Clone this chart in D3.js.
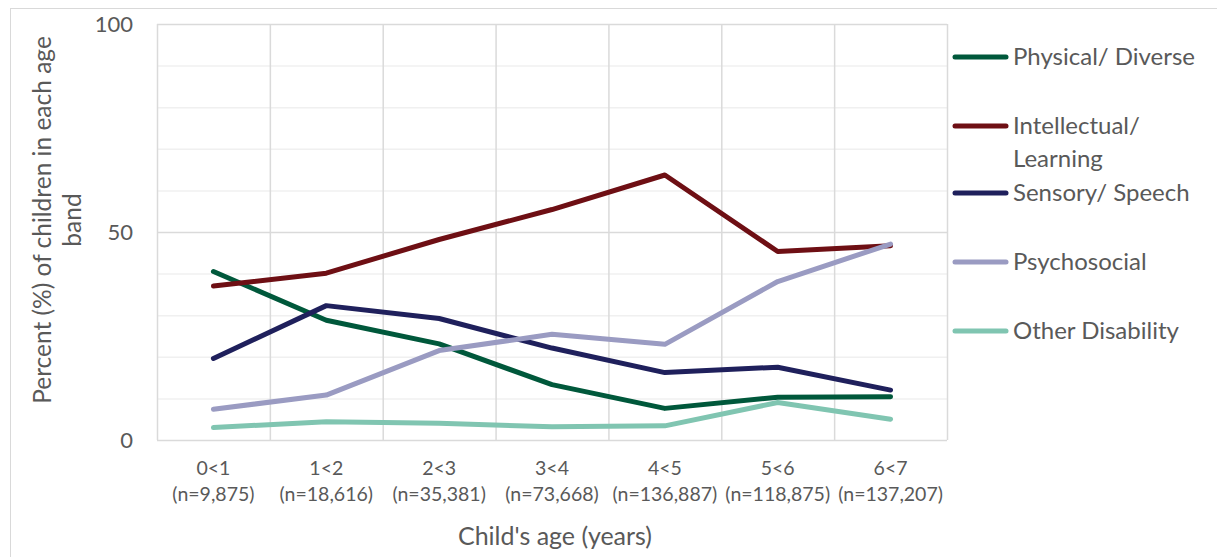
<!DOCTYPE html>
<html lang="en">
    <head>
        <meta charset="utf-8">
        <title>Disability type by child's age</title>
        <script type="text/javascript" src="https://cdn.jsdelivr.net/npm/d3@7"></script>
        <style>
            body { margin: 0; background: #fff; }
            text { font-family: Lato, "Open Sans", sans-serif; fill: #595959; }
        </style>
    </head>
    <body>
        <script type="text/javascript">

            //Width and height
            var w = 1217;
            var h = 557;

            //Categories and their sample sizes
            var ages = ["0<1", "1<2", "2<3", "3<4", "4<5", "5<6", "6<7"];
            var sizes = ["(n=9,875)", "(n=18,616)", "(n=35,381)", "(n=73,668)", "(n=136,887)", "(n=118,875)", "(n=137,207)"];

            //Series values (% of children in each age band)
            var physical     = [40.5, 28.8, 23.1, 13.3, 7.6, 10.3, 10.4];
            var intellectual = [37.0, 40.1, 48.2, 55.4, 63.7, 45.3, 46.7];
            var sensory      = [19.6, 32.3, 29.2, 22.1, 16.2, 17.5, 12.0];
            var psychosocial = [7.4, 10.8, 21.5, 25.4, 23.0, 38.1, 47.1];
            var other        = [3.0, 4.4, 4.0, 3.2, 3.4, 9.0, 5.0];

            var seriesNames = ["Physical/ Diverse", "Intellectual/ Learning", "Sensory/ Speech", "Psychosocial", "Other Disability"];
            var seriesColors = ["#00583b", "#6e0f14", "#1f205c", "#9a9bc2", "#80c5b1"];
            var seriesValues = [physical, intellectual, sensory, psychosocial, other];

            var yTicks = [0, 50, 100];

            var svg = d3.select("body")
                        .append("svg")
                        .attr("width", w)
                        .attr("height", h);

            //Outer chart frame (runs off the picture at right and bottom)
            svg.append("rect")
                .attr("x", 10.5)
                .attr("y", 8.5)
                .attr("width", w + 20)
                .attr("height", h + 20)
                .attr("fill", "none")
                .attr("stroke", "#d9d9d9");

            //Scales
            var xScale = d3.scaleBand()
                            .domain(ages)
                            .range([157, 947])
                            .padding(0);

            var yScale = d3.scaleLinear()
                            .domain([0, 100])
                            .range([440, 24]);

            var xMid = function(c) { return xScale(c) + xScale.bandwidth() / 2; };

            //Minor horizontal gridlines
            svg.append("g")
                .selectAll("line")
                .data(d3.range(10, 100, 10).filter(function(v) { return v !== 50; }))
                .enter()
                .append("line")
                .attr("x1", 157)
                .attr("x2", 947)
                .attr("y1", function(d) { return yScale(d) + 0.5; })
                .attr("y2", function(d) { return yScale(d) + 0.5; })
                .attr("stroke", "#f0f0f0")
                .attr("stroke-width", 1.5);

            //Major horizontal gridlines
            svg.append("g")
                .selectAll("line")
                .data(yTicks)
                .enter()
                .append("line")
                .attr("x1", 157)
                .attr("x2", 947)
                .attr("y1", function(d) { return yScale(d) + 0.5; })
                .attr("y2", function(d) { return yScale(d) + 0.5; })
                .attr("stroke", "#dadada")
                .attr("stroke-width", 1.5);

            //Vertical gridlines at band edges
            var edges = ages.map(function(c) { return xScale(c); }).concat([xScale.range()[1]]);
            svg.append("g")
                .selectAll("line")
                .data(edges)
                .enter()
                .append("line")
                .attr("x1", function(d) { return d + 0.5; })
                .attr("x2", function(d) { return d + 0.5; })
                .attr("y1", yScale(100))
                .attr("y2", yScale(0))
                .attr("stroke", "#dadada")
                .attr("stroke-width", 1.5);

            //Y axis
            var yAxis = d3.axisLeft(yScale)
                            .tickValues(yTicks)
                            .tickSize(0)
                            .tickPadding(24);

            var gy = svg.append("g")
                .attr("transform", "translate(157,0)")
                .call(yAxis);
            gy.select(".domain").remove();
            gy.selectAll("text")
                .attr("font-size", "22px")
                .attr("fill", "#595959")
                .attr("font-family", "Lato, sans-serif");

            //X axis with two-line labels
            var xAxis = d3.axisBottom(xScale)
                            .tickSize(0)
                            .tickFormat("");

            var gx = svg.append("g")
                .attr("transform", "translate(0,440)")
                .call(xAxis);
            gx.select(".domain").remove();
            gx.selectAll(".tick text").remove();
            gx.selectAll(".tick")
                .append("text")
                .attr("text-anchor", "middle")
                .attr("font-size", "19.5px")
                .attr("fill", "#595959")
                .attr("font-family", "Lato, sans-serif")
                .each(function(d, i) {
                    var t = d3.select(this);
                    t.append("tspan").attr("x", 0).attr("y", 35).text(d);
                    t.append("tspan").attr("x", 0).attr("y", 61).text(sizes[i]);
                });

            //Axis titles
            svg.append("text")
                .attr("x", 555)
                .attr("y", 545)
                .attr("text-anchor", "middle")
                .attr("font-size", "25px")
                .text("Child's age (years)");

            var yTitle = svg.append("text")
                .attr("transform", "translate(0,220) rotate(-90)")
                .attr("text-anchor", "middle")
                .attr("font-size", "24.5px");
            yTitle.append("tspan").attr("x", 0).attr("y", 51).text("Percent (%) of children in each age");
            yTitle.append("tspan").attr("x", 0).attr("y", 81).text("band");

            //Lines
            var line = d3.line()
                        .x(function(d, i) { return xMid(ages[i]); })
                        .y(function(d) { return yScale(d); });

            svg.append("g")
                .selectAll("path")
                .data(seriesValues)
                .enter()
                .append("path")
                .attr("d", line)
                .attr("fill", "none")
                .attr("stroke", function(d, i) { return seriesColors[i]; })
                .attr("stroke-width", 5)
                .attr("stroke-linecap", "round")
                .attr("stroke-linejoin", "round");

            //Legend
            var legendY = [57, 126, 193, 262, 331];
            var legend = svg.append("g")
                .selectAll("g")
                .data(seriesNames)
                .enter()
                .append("g")
                .attr("transform", function(d, i) { return "translate(953," + legendY[i] + ")"; });

            legend.append("line")
                .attr("x1", 2)
                .attr("x2", 53)
                .attr("stroke", function(d, i) { return seriesColors[i]; })
                .attr("stroke-width", 5)
                .attr("stroke-linecap", "round");

            legend.append("text")
                .attr("x", 60)
                .attr("font-size", "24px")
                .each(function(d) {
                    var t = d3.select(this);
                    var parts = d === "Intellectual/ Learning" ? ["Intellectual/", "Learning"] : [d];
                    parts.forEach(function(p, k) {
                        t.append("tspan").attr("x", 60).attr("y", 8 + k * 33).text(p);
                    });
                });

        </script>
    </body>
</html>
